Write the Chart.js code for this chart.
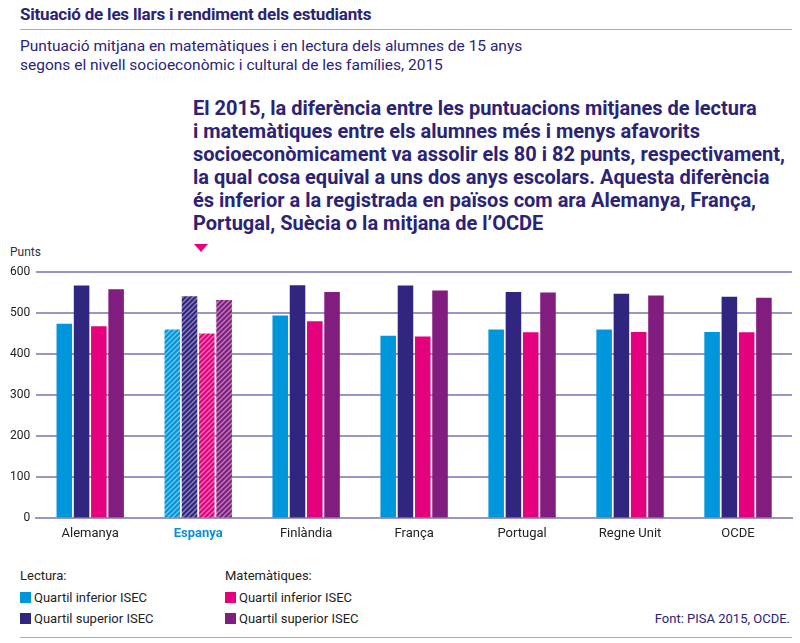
<!doctype html>
<html lang="ca">
<head>
  <meta charset="utf-8">
  <title>Situació de les llars i rendiment dels estudiants</title>
  <style>
    body { margin: 0; width: 800px; height: 643px; background: #fff; position: relative; overflow: hidden;
           font-family: "Liberation Sans Narrow", "Roboto", "Liberation Sans", sans-serif; color: #2b2376; }
    .abs { position: absolute; }
    #title { left: 20px; top: 4px; font: bold 17px "Roboto", "Liberation Sans", sans-serif; letter-spacing: -0.2px; }
    #rule1 { left: 20px; top: 29px; width: 772px; height: 1px; background: #aaa5d6; }
    #sub { left: 20px; top: 37px; font: 15.5px "Roboto", "Liberation Sans", sans-serif; line-height: 19px; }
    #callout { left: 193px; top: 97px; font: bold 20px "Roboto", "Liberation Sans", sans-serif; line-height: 23px; }
    #tri { left: 194px; top: 244px; width: 0; height: 0; border-left: 7px solid transparent; border-right: 7px solid transparent; border-top: 8px solid #e6007e; }
    #punts { left: 10px; top: 245px; font-size: 12px; color: #333; }
    #wrap { left: 0; top: 240px; width: 800px; height: 310px; }
    .leg { font-size: 13px; color: #222; }
    .sw { display: inline-block; width: 11px; height: 11px; margin-right: 3px; vertical-align: -1px; }
    #font { right: 10px; top: 611px; font-size: 13px; color: #2b2376; }
    #rule2 { left: 20px; top: 637px; width: 772px; height: 1px; background: #aaa5d6; }
  </style>
</head>
<body>
  <div id="title" class="abs">Situació de les llars i rendiment dels estudiants</div>
  <div id="rule1" class="abs"></div>
  <div id="sub" class="abs">Puntuació mitjana en matemàtiques i en lectura dels alumnes de 15 anys<br>segons el nivell socioeconòmic i cultural de les famílies, 2015</div>
  <div id="callout" class="abs">El 2015, la diferència entre les puntuacions mitjanes de lectura<br>i matemàtiques entre els alumnes més i menys afavorits<br>socioeconòmicament va assolir els 80 i 82 punts, respectivament,<br>la qual cosa equival a uns dos anys escolars. Aquesta diferència<br>és inferior a la registrada en països com ara Alemanya, França,<br>Portugal, Suècia o la mitjana de l’OCDE</div>
  <div id="tri" class="abs"></div>
  <div id="punts" class="abs">Punts</div>
  <div id="wrap" class="abs"><canvas id="myChart"></canvas></div>

  <div class="abs leg" style="left:20px;top:568px">Lectura:</div>
  <div class="abs leg" style="left:20px;top:590px"><span class="sw" style="background:#0096db"></span>Quartil inferior ISEC</div>
  <div class="abs leg" style="left:20px;top:611px"><span class="sw" style="background:#31267f"></span>Quartil superior ISEC</div>
  <div class="abs leg" style="left:225px;top:568px">Matemàtiques:</div>
  <div class="abs leg" style="left:225px;top:590px"><span class="sw" style="background:#e5007d"></span>Quartil inferior ISEC</div>
  <div class="abs leg" style="left:225px;top:611px"><span class="sw" style="background:#821d80"></span>Quartil superior ISEC</div>
  <div id="font" class="abs">Font: PISA 2015, OCDE.</div>
  <div id="rule2" class="abs"></div>

  <script src="https://cdn.jsdelivr.net/npm/chart.js"></script>
  <script>
    const countries = ['Alemanya', 'Espanya', 'Finlàndia', 'França', 'Portugal', 'Regne Unit', 'OCDE'];
    const readingLow  = [474, 460, 494, 445, 460, 460, 454];
    const readingHigh = [567, 541, 568, 567, 551, 547, 540];
    const mathLow     = [468, 450, 480, 443, 453, 454, 453];
    const mathHigh    = [558, 532, 551, 555, 550, 543, 537];
    const yTicks = [0, 100, 200, 300, 400, 500, 600];
    const highlight = 'Espanya';

    const COLORS = {
      readLow: '#0096db',
      readHigh: '#31267f',
      mathLow: '#e5007d',
      mathHigh: '#821d80'
    };

    // diagonal hatch for the highlighted country
    function hatch(color) {
      const c = document.createElement('canvas');
      c.width = 5; c.height = 5;
      const ctx = c.getContext('2d');
      ctx.fillStyle = color;
      ctx.fillRect(0, 0, 5, 5);
      ctx.strokeStyle = 'rgba(255,255,255,0.45)';
      ctx.lineWidth = 1.3;
      ctx.beginPath();
      ctx.moveTo(-1, 6); ctx.lineTo(6, -1);
      ctx.moveTo(-1, 1); ctx.lineTo(1, -1);
      ctx.moveTo(4, 6); ctx.lineTo(6, 4);
      ctx.stroke();
      return ctx.createPattern(c, 'repeat');
    }

    function fill(color) {
      const pat = hatch(color);
      return ctx => countries[ctx.dataIndex] === highlight ? pat : color;
    }

    const mkSet = (label, data, color) => ({
      label: label,
      data: data,
      backgroundColor: fill(color),
      borderWidth: 0,
      categoryPercentage: 0.64,
      barPercentage: 0.9
    });

    const data = {
      labels: countries,
      datasets: [
        mkSet('Lectura: Quartil inferior ISEC', readingLow, COLORS.readLow),
        mkSet('Lectura: Quartil superior ISEC', readingHigh, COLORS.readHigh),
        mkSet('Matemàtiques: Quartil inferior ISEC', mathLow, COLORS.mathLow),
        mkSet('Matemàtiques: Quartil superior ISEC', mathHigh, COLORS.mathHigh)
      ]
    };

    const config = {
      type: 'bar',
      data: data,
      options: {
        responsive: true,
        maintainAspectRatio: false,
        animation: false,
        layout: { padding: { top: 32, right: 8, left: 4, bottom: 0 } },
        plugins: {
          legend: { display: false },
          tooltip: { enabled: false }
        },
        scales: {
          x: {
            grid: { display: false, drawTicks: false },
            border: { display: true, color: '#9c94c9', width: 2 },
            ticks: {
              padding: 8,
              color: ctx => countries[ctx.index] === highlight ? '#0a8fd6' : '#222',
              font: ctx => ({
                family: '"Liberation Sans Narrow", "Roboto", sans-serif',
                size: 13,
                weight: countries[ctx.index] === highlight ? 'bold' : 'normal'
              })
            }
          },
          y: {
            min: 0,
            max: 600,
            afterBuildTicks: axis => { axis.ticks = yTicks.map(v => ({ value: v })); },
            grid: { color: '#9c94c9', lineWidth: 2, drawTicks: false },
            border: { display: false },
            ticks: {
              padding: 6,
              color: '#222',
              font: { family: '"Liberation Sans Narrow", "Roboto", sans-serif', size: 12 }
            }
          }
        }
      }
    };

    const myChart = new Chart(document.getElementById('myChart'), config);
  </script>
</body>
</html>
